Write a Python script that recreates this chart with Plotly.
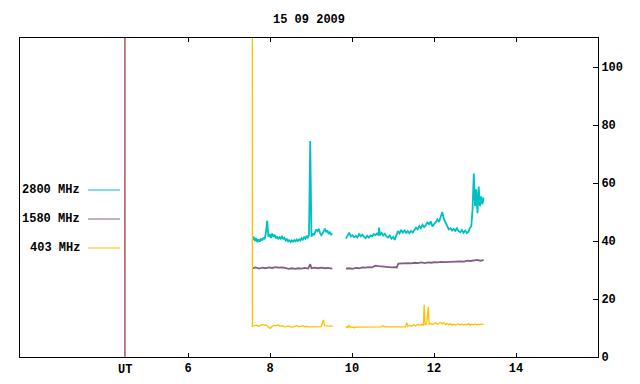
import plotly.graph_objects as go

# ---------------- data (hours UT, solar flux units) ----------------
t2800_a = [7.57, 7.60, 7.63, 7.66, 7.69, 7.72, 7.75, 7.78, 7.81, 7.84, 7.87, 7.90, 7.93, 7.96, 7.99,
           8.02, 8.05, 8.08, 8.11, 8.14, 8.17, 8.20, 8.23, 8.26, 8.29, 8.32, 8.35, 8.38, 8.41, 8.44,
           8.47, 8.50, 8.53, 8.56, 8.59, 8.62, 8.65, 8.68, 8.71, 8.74, 8.77, 8.80, 8.83, 8.86, 8.89,
           8.92, 8.95, 8.98, 9.01, 9.04, 9.07, 9.10, 9.13, 9.16, 9.19, 9.22, 9.25, 9.28, 9.31, 9.34,
           9.37, 9.40, 9.43, 9.46, 9.49, 9.52]
v2800_a = [40.5, 41.5, 40.0, 41.0, 39.6, 40.6, 39.8, 40.8, 40.2, 41.2, 40.6, 43.0, 47.0, 41.5, 42.4,
           41.0, 42.6, 41.4, 42.2, 40.9, 41.6, 40.6, 41.3, 40.8, 41.8, 40.6, 41.1, 40.2, 40.8, 39.7,
           40.4, 39.6, 40.2, 39.8, 40.3, 39.9, 40.5, 40.0, 40.6, 40.2, 41.0, 40.5, 41.3, 40.8, 41.8,
           41.2, 42.0, 74.5, 41.5, 42.6, 42.0, 43.2, 44.0, 43.4, 44.2, 42.8, 42.0, 42.6, 43.4, 44.3,
           43.0, 43.6, 42.4, 43.0, 42.2, 42.6]
t2800_b = [9.85, 9.89, 9.93, 9.97, 10.01, 10.05, 10.09, 10.13, 10.17, 10.21, 10.25, 10.29, 10.33, 10.37,
           10.41, 10.45, 10.49, 10.53, 10.57, 10.61, 10.65, 10.66, 10.68, 10.72, 10.76, 10.80, 10.84,
           10.88, 10.92, 10.96, 11.00, 11.04, 11.08, 11.12, 11.16, 11.20, 11.24, 11.28, 11.32, 11.36,
           11.40, 11.44, 11.48, 11.52, 11.56, 11.60, 11.64, 11.68, 11.72, 11.76, 11.80, 11.84, 11.88,
           11.92, 11.96, 12.00, 12.04, 12.08, 12.12, 12.16, 12.20, 12.24, 12.28, 12.32, 12.36, 12.40,
           12.44, 12.48, 12.52, 12.56, 12.60, 12.64, 12.68, 12.72, 12.76, 12.80, 12.84, 12.88, 12.91,
           12.94, 12.97, 13.00, 13.03, 13.06, 13.09, 13.12, 13.15, 13.18, 13.21]
v2800_b = [40.8, 41.8, 42.9, 41.6, 42.0, 41.3, 41.8, 41.2, 42.4, 41.6, 42.2, 41.5, 41.0, 41.8,
           41.2, 41.9, 41.6, 42.4, 42.0, 42.6, 41.8, 44.6, 42.0, 42.8, 41.9, 42.5, 41.6,
           41.2, 41.9, 40.8, 41.4, 40.4, 41.6, 43.4, 42.6, 43.8, 42.9, 43.6, 42.8, 43.4,
           42.7, 43.5, 42.9, 44.0, 44.6, 44.0, 45.2, 44.4, 45.6, 44.8, 45.4, 46.6, 45.6,
           46.8, 45.0, 45.8, 46.4, 47.4, 46.6, 48.2, 50.0, 47.6, 46.2, 44.8, 44.0, 44.4,
           43.6, 44.2, 43.5, 44.4, 43.4, 43.0, 43.8, 42.8, 43.6, 42.7, 43.2, 44.6, 45.2,
           51.0, 63.3, 52.0, 57.8, 49.6, 58.8, 52.0, 55.4, 52.6, 55.0]

t1580_a = [7.57, 7.65, 7.73, 7.81, 7.89, 7.97, 8.05, 8.13, 8.21, 8.29, 8.37, 8.45, 8.53, 8.61, 8.69,
           8.77, 8.85, 8.93, 8.98, 9.01, 9.09, 9.17, 9.25, 9.33, 9.41, 9.49, 9.52]
v1580_a = [30.6, 30.9, 30.5, 30.8, 30.6, 30.9, 30.7, 31.0, 30.8, 30.9, 30.7, 30.4, 30.6, 30.4, 30.6,
           30.5, 30.7, 30.5, 32.0, 30.6, 30.8, 30.6, 30.8, 30.6, 30.7, 30.4, 30.5]
t1580_b = [9.85, 9.93, 10.01, 10.09, 10.17, 10.25, 10.33, 10.41, 10.49, 10.57, 10.65, 10.73, 10.81,
           10.89, 10.97, 11.05, 11.09, 11.13, 11.21, 11.29, 11.37, 11.45, 11.53, 11.61, 11.69, 11.77,
           11.85, 11.93, 12.01, 12.09, 12.17, 12.25, 12.33, 12.41, 12.49, 12.57, 12.65, 12.73, 12.81,
           12.89, 12.97, 13.05, 13.13, 13.21]
v1580_b = [30.5, 30.6, 30.4, 30.7, 30.6, 30.9, 30.8, 31.0, 30.9, 31.5, 31.3, 31.2, 31.0,
           31.1, 30.9, 31.0, 30.8, 32.2, 32.3, 32.2, 32.4, 32.3, 32.5, 32.4, 32.6, 32.4,
           32.6, 32.5, 32.7, 32.6, 32.8, 32.7, 32.8, 32.7, 33.0, 32.9, 33.0, 32.9, 33.2,
           33.1, 33.3, 33.5, 33.2, 33.4]

t403_a = [7.565, 7.57, 7.62, 7.67, 7.72, 7.77, 7.82, 7.87, 7.92, 7.95, 7.98, 8.02, 8.05, 8.10, 8.15,
          8.20, 8.25, 8.30, 8.35, 8.40, 8.45, 8.50, 8.55, 8.60, 8.65, 8.70, 8.75, 8.80, 8.85, 8.90,
          8.95, 9.00, 9.05, 9.10, 9.15, 9.20, 9.25, 9.30, 9.33, 9.40, 9.45, 9.52]
v403_a = [200.0, 10.6, 10.8, 11.0, 10.6, 10.8, 11.2, 10.9, 11.0, 10.4, 10.0, 10.0, 10.6, 10.8, 10.8,
          11.1, 10.6, 10.8, 10.4, 10.5, 10.7, 10.4, 10.3, 10.6, 10.8, 10.4, 10.6, 10.8, 10.4, 10.6,
          10.4, 10.4, 10.3, 10.3, 10.4, 10.5, 10.5, 12.8, 10.8, 10.7, 10.6, 10.6]
t403_b = [9.85, 9.88, 9.90, 9.93, 9.96, 10.00, 10.05, 10.10, 10.20, 10.30, 10.40, 10.50, 10.60, 10.70,
          10.75, 10.80, 10.90, 11.00, 11.10, 11.20, 11.30, 11.34, 11.36, 11.40, 11.45, 11.50, 11.55,
          11.60, 11.65, 11.70, 11.74, 11.76, 11.78, 11.82, 11.86, 11.88, 11.92, 11.96, 12.00, 12.04,
          12.08, 12.12, 12.16, 12.20, 12.24, 12.28, 12.32, 12.36, 12.40, 12.44, 12.48, 12.52, 12.56,
          12.60, 12.64, 12.68, 12.72, 12.76, 12.80, 12.84, 12.88, 12.92, 12.96, 13.00, 13.04, 13.08,
          13.12, 13.16, 13.21]
v403_b = [10.2, 10.6, 10.0, 11.0, 10.2, 10.4, 10.1, 10.3, 10.3, 10.3, 10.4, 10.4, 10.4, 10.4,
          10.8, 10.4, 10.4, 10.4, 10.4, 10.4, 10.4, 11.8, 10.6, 10.9, 10.6, 11.1, 10.7,
          11.2, 11.0, 11.2, 11.0, 18.0, 11.2, 11.4, 17.3, 11.3, 11.6, 11.2, 11.5, 11.8,
          11.3, 11.6, 11.9, 11.4, 11.8, 11.2, 11.6, 11.1, 11.5, 11.0, 11.3, 11.0, 11.2,
          11.5, 11.1, 11.4, 11.0, 11.3, 11.1, 11.5, 11.0, 11.3, 11.1, 11.4, 11.1, 11.3,
          11.1, 11.4, 11.2]

series_names = ["2800 MHz", "1580 MHz", "403 MHz"]
series_colors = ["#00c0c0", "#806080", "#ffc000"]
series_widths = [1.8, 1.8, 1.3]
x_ticks = [6, 8, 10, 12, 14]
y_ticks = [0, 20, 40, 60, 80, 100]
title_text = "15 09 2009"
ut_hour = 4.46

FONT = "Liberation Mono"

def join(a, b):
    return list(a) + [None] + list(b)

fig = go.Figure()
data = [
    (join(t2800_a, t2800_b), join(v2800_a, v2800_b)),
    (join(t1580_a, t1580_b), join(v1580_a, v1580_b)),
    (join(t403_a, t403_b), join(v403_a, v403_b)),
]
for (tx, vy), name, col, w in zip(data, series_names, series_colors, series_widths):
    fig.add_trace(go.Scatter(x=tx, y=vy, mode="lines", name=name,
                             line=dict(color=col, width=w), connectgaps=False,
                             showlegend=False, hoverinfo="skip"))

# UT vertical line
fig.add_shape(type="line", xref="x", yref="paper", x0=ut_hour, x1=ut_hour, y0=0, y1=1,
              line=dict(color="#7f0000", width=1))

# left-side legend
leg_py = [190, 219, 248]
for name, col, py in zip(series_names, series_colors, leg_py):
    yp = (357 - py) / 319
    fig.add_shape(type="line", xref="paper", yref="paper",
                  x0=(88 - 20) / 578, x1=(120 - 20) / 578, y0=yp, y1=yp,
                  line=dict(color=col, width=1))
    fig.add_annotation(xref="paper", yref="paper", x=(82 - 20) / 578, y=yp,
                       text="<b>%s</b>" % name, showarrow=False, xanchor="right",
                       yanchor="middle", font=dict(family=FONT, size=12, color="black"))

fig.add_annotation(xref="x", yref="paper", x=ut_hour, y=-0.012, text="<b>UT</b>",
                   showarrow=False, xanchor="center", yanchor="top",
                   font=dict(family=FONT, size=12, color="black"))

fig.update_layout(
    width=640, height=384,
    margin=dict(l=20, r=42, t=38, b=27, autoexpand=False),
    paper_bgcolor="white", plot_bgcolor="white",
    title=dict(text="<b>%s</b>" % title_text, x=309 / 640, xanchor="center", y=1 - 19 / 384,
               yanchor="middle", font=dict(family=FONT, size=12, color="black")),
    xaxis=dict(range=[1.9, 16.0], tickvals=x_ticks, ticktext=["<b>%d</b>" % v for v in x_ticks],
               ticks="inside", ticklen=4, tickcolor="black", showgrid=False, zeroline=False,
               showline=True, linecolor="black", linewidth=1, mirror="ticks", automargin=False,
               tickfont=dict(family=FONT, size=12, color="black")),
    yaxis=dict(range=[0, 110], side="right", tickvals=y_ticks,
               ticktext=["<b>%d</b>" % v for v in y_ticks],
               ticks="inside", ticklen=5, tickcolor="black", showgrid=False, zeroline=False,
               showline=True, linecolor="black", linewidth=1, mirror=True, automargin=False,
               tickfont=dict(family=FONT, size=12, color="black")),
)

fig.write_html("out.html", config={"displayModeBar": False},
               post_script="document.body.style.margin='0';document.body.style.padding='0';"
                           "document.body.style.overflow='hidden';")
